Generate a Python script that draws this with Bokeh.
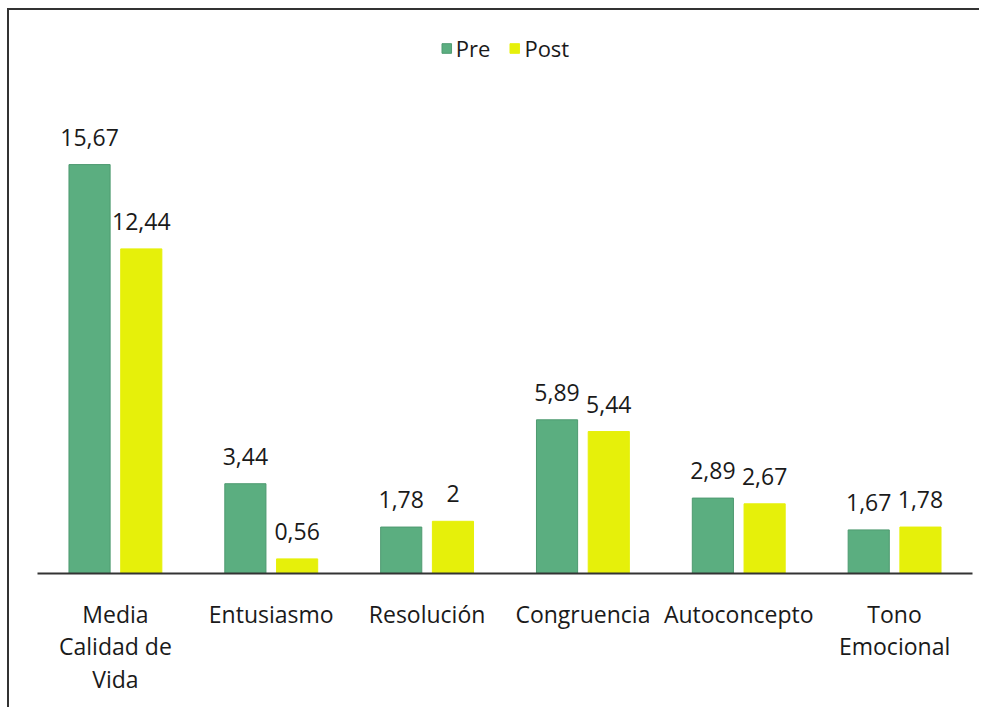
from bokeh.plotting import figure
from bokeh.models import ColumnDataSource, LabelSet, Range1d, Legend, LegendItem
from bokeh.core.properties import value
from bokeh.transform import dodge
from bokeh.embed import file_html
from bokeh.resources import INLINE

categories = ["Media\nCalidad de\nVida", "Entusiasmo", "Resolución", "Congruencia", "Autoconcepto", "Tono\nEmocional"]
pre_values = [15.67, 3.44, 1.78, 5.89, 2.89, 1.67]
post_values = [12.44, 0.56, 2.0, 5.44, 2.67, 1.78]

def fmt(v):
    return f"{v:g}".replace(".", ",")

src = ColumnDataSource(dict(
    cat=categories,
    pre=pre_values,
    post=post_values,
    pre_lbl=[fmt(v) for v in pre_values],
    post_lbl=[fmt(v) for v in post_values],
))

FONT = "Open Sans"
GREEN = "#5BAE80"
YELLOW = "#E6F00A"

p = figure(x_range=categories, y_range=Range1d(0, 21.0), width=972, height=699,
           output_backend="svg", toolbar_location=None,
           min_border_left=28, min_border_right=9, min_border_top=15, min_border_bottom=136)
p.styles = {"border-left": "2px solid #333333", "border-top": "2px solid #333333",
            "margin-left": "7px", "margin-top": "8px"}

r_pre = p.vbar(x=dodge("cat", -0.166, range=p.x_range), top="pre", width=0.264, source=src,
               fill_color=GREEN, line_color="#4E9A70", line_width=1)
r_post = p.vbar(x=dodge("cat", 0.166, range=p.x_range), top="post", width=0.264, source=src,
                fill_color=YELLOW, line_color=YELLOW, line_width=1)

for col, off in (("pre", -0.166), ("post", 0.166)):
    p.add_layout(LabelSet(x=dodge("cat", off, range=p.x_range), y=col, text=col + "_lbl",
                          source=src, text_align="center", text_baseline="bottom", y_offset=19,
                          text_font=value(FONT), text_font_size="23px", text_color="#1a1a1a"))

legend = Legend(items=[LegendItem(label="Pre", renderers=[r_pre]),
                       LegendItem(label="Post", renderers=[r_post])],
                location="top_center", orientation="horizontal",
                label_text_font=FONT, label_text_font_size="22px", label_text_color="#1a1a1a",
                glyph_width=12, glyph_height=12, spacing=18, label_standoff=4,
                border_line_color=None, background_fill_alpha=0, margin=8, padding=4)
p.add_layout(legend)

p.yaxis.visible = False
p.xaxis.major_label_text_font = FONT
p.xaxis.major_label_text_font_size = "23px"
p.xaxis.major_label_text_line_height = 1.02
p.xaxis.major_label_text_color = "#1a1a1a"
p.xaxis.major_label_standoff = 18
p.xaxis.major_tick_line_color = None
p.xaxis.minor_tick_line_color = None
p.xaxis.axis_line_color = "#333333"
p.xaxis.axis_line_width = 2
p.xgrid.visible = False
p.ygrid.visible = False
p.outline_line_color = None
p.x_range.range_padding = 0

open("out.html", "w").write(file_html(p, INLINE))
